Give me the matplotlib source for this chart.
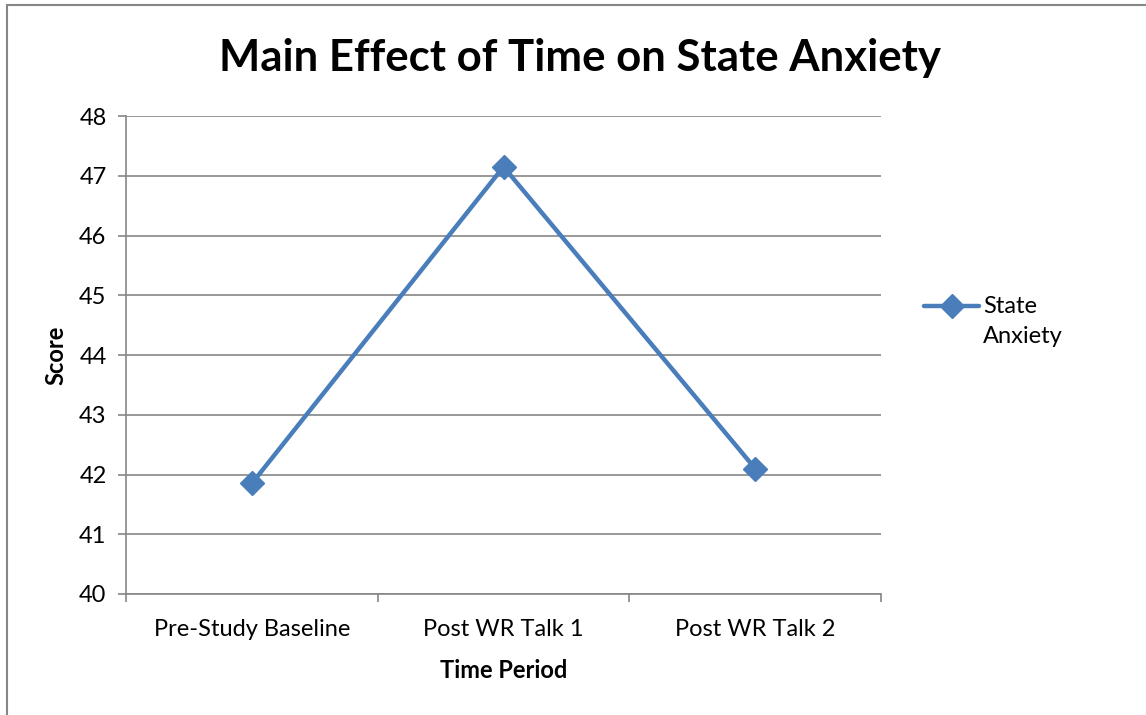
import matplotlib
matplotlib.use("Agg")
import matplotlib.pyplot as plt
from matplotlib.patches import Rectangle
from matplotlib.lines import Line2D

categories = ["Pre-Study Baseline", "Post WR Talk 1", "Post WR Talk 2"]
state_anxiety = [41.85, 47.15, 42.10]
y_ticks = [40, 41, 42, 43, 44, 45, 46, 47, 48]
series_name = "State\nAnxiety"

plt.rcParams['font.family'] = ['Lato', 'DejaVu Sans']

W, H = 1146, 715
fig = plt.figure(figsize=(W/100, H/100), dpi=100)
fig.patches.append(Rectangle((7/W, -0.1), 1.2, (H-5)/H + 0.1, transform=fig.transFigure,
                             fill=False, edgecolor='#868686', linewidth=1.5))

ax = fig.add_axes([126/W, 1-594/H, (881-126)/W, (594-116)/H])
x = list(range(len(categories)))
line_color = '#4a7ebb'
ax.plot(x, state_anxiety, color=line_color, linewidth=3.2, marker='D', markersize=12,
        markeredgecolor=line_color, markerfacecolor=line_color, zorder=3, clip_on=False)

ax.set_xlim(-0.5, len(categories) - 0.5)
ax.set_ylim(y_ticks[0], y_ticks[-1])
ax.set_yticks(y_ticks)
ax.set_yticklabels([str(v) for v in y_ticks])
ax.yaxis.grid(True, color='#868686', linewidth=1.2)
ax.set_axisbelow(True)

# category labels centered, tick marks at boundaries
ax.set_xticks([i - 0.5 for i in range(len(categories) + 1)])
ax.set_xticklabels([])
ax.set_xticks(x, minor=True)
ax.set_xticklabels(categories, minor=True)
ax.tick_params(axis='x', which='minor', length=0, labelsize=17, pad=18)
ax.tick_params(axis='x', which='major', length=6, color='#868686', width=1.2)
ax.tick_params(axis='y', length=6, color='#868686', width=1.2, labelsize=17, pad=8)

for s in ['top', 'right']:
    ax.spines[s].set_visible(False)
for s in ['left', 'bottom']:
    ax.spines[s].set_color('#868686')
    ax.spines[s].set_linewidth(1.2)

ax.set_xlabel("Time Period", fontsize=17, fontweight='bold', labelpad=14)
ax.set_ylabel("Score", fontsize=17, fontweight='bold', labelpad=8)

fig.text(580/W, 1-58/H, "Main Effect of Time on State Anxiety", ha='center', va='center',
         fontsize=31.5, fontweight='bold')

# legend (handle aligned with first text line, as in the reference)
ly = 1 - 306/H
fig.add_artist(Line2D([924/W, 951.5/W, 979/W], [ly, ly, ly], transform=fig.transFigure,
                      color=line_color, linewidth=3.2, marker='D', markersize=12,
                      markevery=[1], solid_capstyle='round'))
fig.text(983/W, 1-296/H, series_name, ha='left', va='top', fontsize=17, linespacing=1.55)

fig.savefig("out.png", dpi=100)
